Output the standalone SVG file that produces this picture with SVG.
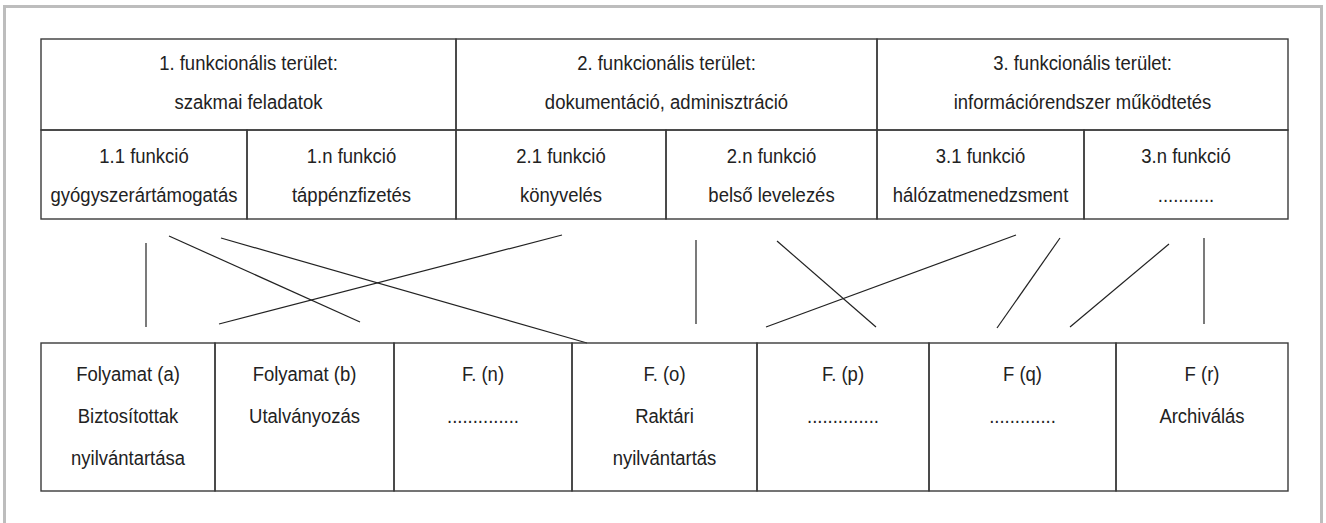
<svg xmlns="http://www.w3.org/2000/svg" width="1326" height="523" viewBox="0 0 1326 523">
<style>
.cell{fill:none;stroke:#3a3a3a;stroke-width:1.4}
.t{font-family:"Liberation Sans",Arial,sans-serif;font-size:21px;fill:#222;text-anchor:middle}
.c line{stroke:#222;stroke-width:1.2}
</style>
<rect x="0" y="0" width="1326" height="523" fill="#fff"/>
<rect x="4.5" y="6.5" width="1317" height="540" fill="none" stroke="#bdbdbd" stroke-width="3"/>

<g id="area1"><rect class="cell" x="41" y="39" width="415" height="91"/>
<g transform="translate(248.5 0) scale(0.88 1)"><text class="t" x="0" y="70">1. funkcionális terület:</text><text class="t" x="0" y="109">szakmai feladatok</text></g></g>
<g id="area2"><rect class="cell" x="456" y="39" width="421" height="91"/>
<g transform="translate(666.5 0) scale(0.88 1)"><text class="t" x="0" y="70">2. funkcionális terület:</text><text class="t" x="0" y="109">dokumentáció, adminisztráció</text></g></g>
<g id="area3"><rect class="cell" x="877" y="39" width="411" height="91"/>
<g transform="translate(1082.5 0) scale(0.88 1)"><text class="t" x="0" y="70">3. funkcionális terület:</text><text class="t" x="0" y="109">információrendszer működtetés</text></g></g>

<g id="f11"><rect class="cell" x="41" y="130" width="206" height="89"/>
<g transform="translate(144 0) scale(0.88 1)"><text class="t" x="0" y="163">1.1 funkció</text><text class="t" x="0" y="202">gyógyszerártámogatás</text></g></g>
<g id="f1n"><rect class="cell" x="247" y="130" width="209" height="89"/>
<g transform="translate(351.5 0) scale(0.88 1)"><text class="t" x="0" y="163">1.n funkció</text><text class="t" x="0" y="202">táppénzfizetés</text></g></g>
<g id="f21"><rect class="cell" x="456" y="130" width="210" height="89"/>
<g transform="translate(561 0) scale(0.88 1)"><text class="t" x="0" y="163">2.1 funkció</text><text class="t" x="0" y="202">könyvelés</text></g></g>
<g id="f2n"><rect class="cell" x="666" y="130" width="211" height="89"/>
<g transform="translate(771.5 0) scale(0.88 1)"><text class="t" x="0" y="163">2.n funkció</text><text class="t" x="0" y="202">belső levelezés</text></g></g>
<g id="f31"><rect class="cell" x="877" y="130" width="207" height="89"/>
<g transform="translate(980.5 0) scale(0.88 1)"><text class="t" x="0" y="163">3.1 funkció</text><text class="t" x="0" y="202">hálózatmenedzsment</text></g></g>
<g id="f3n"><rect class="cell" x="1084" y="130" width="204" height="89"/>
<g transform="translate(1186 0) scale(0.88 1)"><text class="t" x="0" y="163">3.n funkció</text><text class="t" x="0" y="202">...........</text></g></g>

<g id="connectors" class="c">
<line x1="146" y1="243" x2="146" y2="327"/>
<line x1="169" y1="236" x2="360" y2="322"/>
<line x1="221" y1="238" x2="587" y2="343"/>
<line x1="219" y1="324" x2="562" y2="235"/>
<line x1="696" y1="240" x2="696" y2="324"/>
<line x1="777" y1="241" x2="876" y2="327"/>
<line x1="766" y1="327" x2="1016" y2="235"/>
<line x1="1060" y1="238" x2="997" y2="328"/>
<line x1="1169" y1="244" x2="1070" y2="327"/>
<line x1="1204" y1="238" x2="1204" y2="324"/>
</g>

<g id="pa"><rect class="cell" x="41" y="343" width="174" height="148"/>
<g transform="translate(128 0) scale(0.88 1)"><text class="t" x="0" y="381">Folyamat (a)</text><text class="t" x="0" y="423">Biztosítottak</text><text class="t" x="0" y="465">nyilvántartása</text></g></g>
<g id="pb"><rect class="cell" x="215" y="343" width="179" height="148"/>
<g transform="translate(304.5 0) scale(0.88 1)"><text class="t" x="0" y="381">Folyamat (b)</text><text class="t" x="0" y="423">Utalványozás</text></g></g>
<g id="pn"><rect class="cell" x="394" y="343" width="178" height="148"/>
<g transform="translate(483 0) scale(0.88 1)"><text class="t" x="0" y="381">F. (n)</text><text class="t" x="0" y="423">..............</text></g></g>
<g id="po"><rect class="cell" x="572" y="343" width="185" height="148"/>
<g transform="translate(664.5 0) scale(0.88 1)"><text class="t" x="0" y="381">F. (o)</text><text class="t" x="0" y="423">Raktári</text><text class="t" x="0" y="465">nyilvántartás</text></g></g>
<g id="pp"><rect class="cell" x="757" y="343" width="172" height="148"/>
<g transform="translate(843 0) scale(0.88 1)"><text class="t" x="0" y="381">F. (p)</text><text class="t" x="0" y="423">..............</text></g></g>
<g id="pq"><rect class="cell" x="929" y="343" width="187" height="148"/>
<g transform="translate(1022.5 0) scale(0.88 1)"><text class="t" x="0" y="381">F (q)</text><text class="t" x="0" y="423">.............</text></g></g>
<g id="pr"><rect class="cell" x="1116" y="343" width="172" height="148"/>
<g transform="translate(1202 0) scale(0.88 1)"><text class="t" x="0" y="381">F (r)</text><text class="t" x="0" y="423">Archiválás</text></g></g>
</svg>
